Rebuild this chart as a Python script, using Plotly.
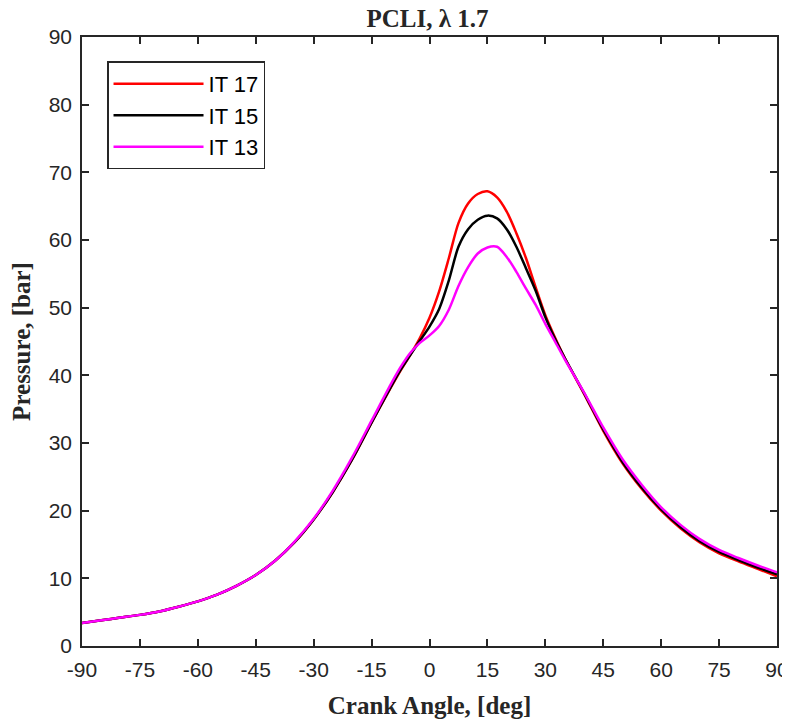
import plotly.graph_objects as go

angle = [-90, -85, -80, -75, -70, -65, -60, -55, -50, -45, -40, -35, -30, -25, -20,
         -15, -10, -7.5, -5, -2.5, 0, 2.5, 5, 7.5, 10, 12.5, 15, 17.5, 20, 22.5, 25,
         27.5, 30, 32.5, 35, 40, 45, 50, 55, 60, 65, 70, 75, 80, 85, 90]

it17 = [3.4, 3.8, 4.2, 4.6, 5.1, 5.8, 6.6, 7.6, 8.9, 10.5, 12.6, 15.3, 18.7, 22.8, 27.6,
        33.0, 38.2, 40.7, 43.0, 45.5, 48.5, 52.4, 57.3, 62.5, 65.4, 66.8, 67.2, 66.3, 64.2,
        61.0, 57.3, 53.0, 48.9, 45.6, 42.6, 37.3, 31.8,
        27.0, 23.2, 20.0, 17.4, 15.3, 13.7, 12.5, 11.4, 10.3]

it15 = [3.4, 3.8, 4.2, 4.6, 5.1, 5.8, 6.6, 7.6, 8.9, 10.5, 12.6, 15.3, 18.7, 22.8, 27.6,
        33.0, 38.3, 40.8, 43.0, 45.1, 47.2, 49.8, 54.0, 59.0, 61.6, 63.0, 63.6, 63.2, 61.6,
        59.0, 55.8, 52.5, 48.6, 45.4, 42.6, 37.4, 32.0,
        27.2, 23.4, 20.2, 17.6, 15.5, 13.9, 12.7, 11.6, 10.6]

it13 = [3.4, 3.8, 4.2, 4.6, 5.1, 5.8, 6.6, 7.6, 8.9, 10.5, 12.6, 15.4, 18.8, 23.0, 27.9,
        33.3, 38.7, 41.2, 43.3, 44.8, 45.9, 47.3, 49.7, 53.2, 56.0, 58.0, 58.9, 59.0, 57.5,
        55.3, 52.8, 50.4, 47.6, 45.0, 42.4, 37.5, 32.3,
        27.6, 23.8, 20.5, 17.9, 15.8, 14.2, 13.0, 11.9, 10.9]

names = ["IT 17", "IT 15", "IT 13"]
colors = ["#FF0000", "#000000", "#FF00FF"]
series = [it17, it15, it13]

x_ticks = list(range(-90, 91, 15))
y_ticks = list(range(0, 91, 10))

fig = go.Figure()
for name, col, ys in zip(names, colors, series):
    fig.add_trace(go.Scatter(
        x=angle, y=ys, mode="lines", name=name, legendgroup=name,
        line=dict(color=col, width=2.5, shape="spline", smoothing=0.8),
    ))

axis_common = dict(
    showline=True, linecolor="#262626", linewidth=1.5, mirror="ticks",
    ticks="inside", ticklen=7, tickwidth=1.5, tickcolor="#262626",
    showgrid=False, zeroline=False, automargin=False,
    tickfont=dict(family="Liberation Sans, Arial", size=21, color="#262626"),
)

title_font = dict(family="Liberation Serif, Times New Roman", size=25, color="#262626")

# The page body adds an 8px offset; the figure is sized to fit the window.
fig.update_layout(
    width=782, height=717,
    margin=dict(l=74, r=13, t=29, b=79),
    plot_bgcolor="white", paper_bgcolor="white",
    title=dict(text="<b>PCLI, λ 1.7</b>", x=0.5365, xanchor="center", y=0.998, yanchor="top",
               font=dict(family="Liberation Serif, Times New Roman", size=25, color="#262626")),
    xaxis=dict(range=[-90, 90], tickvals=x_ticks, ticktext=[str(v) for v in x_ticks],
               ticklabelstandoff=4,
               title=dict(text="<b>Crank Angle, [deg]</b>", standoff=17, font=title_font),
               **axis_common),
    yaxis=dict(range=[0, 90], tickvals=y_ticks, ticktext=[str(v) for v in y_ticks],
               ticklabelstandoff=4,
               title=dict(text="<b>Pressure, [bar]</b>", standoff=11, font=title_font),
               **axis_common),
    legend=dict(x=0.036, y=0.96, xanchor="left", yanchor="top",
                bordercolor="#262626", borderwidth=1.5, bgcolor="white",
                font=dict(family="Liberation Sans, Arial", size=22, color="#000000"),
                itemwidth=90, tracegroupgap=0),
    showlegend=True,
)

fig.write_html("out.html")
